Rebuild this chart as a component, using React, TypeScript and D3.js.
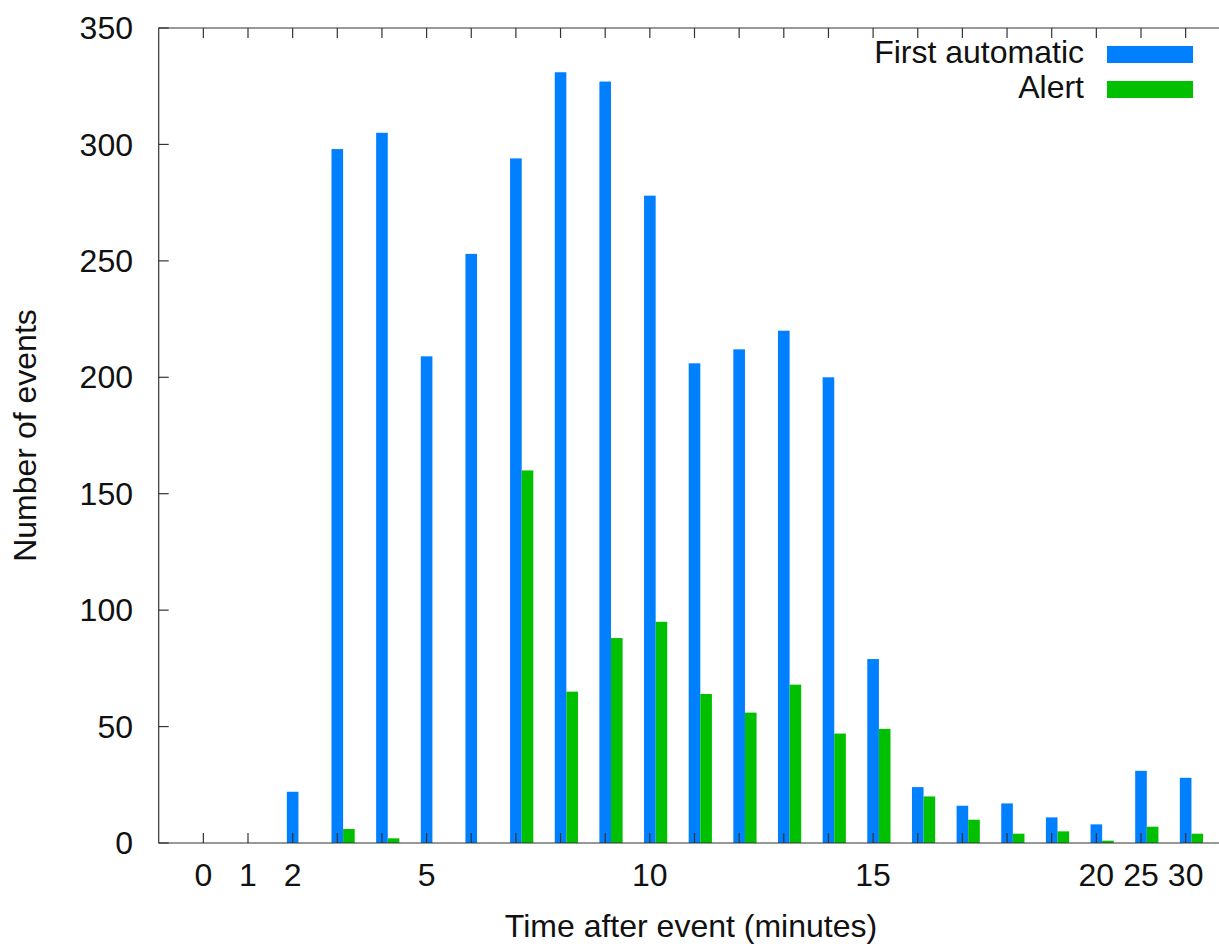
import React from 'react';
import * as d3 from "d3";

// minutes after the event, one cluster per entry
const categories = ["0", "1", "2", "3", "4", "5", "6", "7", "8", "9", "10", "11", "12", "13", "14", "15", "16", "17", "18", "19", "20", "25", "30"];
const shownLabels = ["0", "1", "2", "5", "10", "15", "20", "25", "30"];

const firstAutomatic = [0, 0, 22, 298, 305, 209, 253, 294, 331, 327, 278, 206, 212, 220, 200, 79, 24, 16, 17, 11, 8, 31, 28];
const alert = [0, 0, 0, 6, 2, 0, 0, 160, 65, 88, 95, 64, 56, 68, 47, 49, 20, 10, 4, 5, 1, 7, 4];

const yTicks = [0, 50, 100, 150, 200, 250, 300, 350];

const W = 1219;
const H = 944;
const left = 158.7;
const right = 1230.3;
const top = 28;
const bottom = 843;

const blue = "#0080ff";
const green = "#00c000";
const font = "'Liberation Sans', Arial, sans-serif";
const fs = 32;

export default function App() {
  const x = d3.scaleLinear().domain([-1, 23]).range([left, right]);
  const y = d3.scaleLinear().domain([0, 350]).range([bottom, top]);
  const bw = x(0.26) - x(0);

  return (
    <div style={{ position: "absolute", left: 0, top: 0 }}>
      <svg width={W} height={H} style={{ display: "block", background: "#fff" }}>
        {/* bars */}
        {categories.map((c, i) => (
          <g key={c}>
            {firstAutomatic[i] > 0 && (
              <rect x={x(i) - bw / 2} y={y(firstAutomatic[i])} width={bw}
                height={y(0) - y(firstAutomatic[i])} fill={blue} />
            )}
            {alert[i] > 0 && (
              <rect x={x(i) + bw / 2} y={y(alert[i])} width={bw}
                height={y(0) - y(alert[i])} fill={green} />
            )}
          </g>
        ))}

        {/* border: left, bottom, top */}
        <path d={`M${right},${top}H${left}V${bottom}H${right}`} fill="none" stroke="#333" strokeWidth={1.2} />

        {/* y ticks */}
        {yTicks.map(t => (
          <g key={t}>
            <line x1={left} x2={left + 10} y1={y(t)} y2={y(t)} stroke="#333" strokeWidth={1.2} />
            <text x={133} y={y(t)} dy="0.35em" textAnchor="end" fontFamily={font} fontSize={fs} fill="#111">{t}</text>
          </g>
        ))}

        {/* x ticks, inward on bottom and top */}
        {categories.map((c, i) => (
          <g key={"t" + c}>
            <line x1={x(i)} x2={x(i)} y1={bottom} y2={bottom - 10} stroke="#333" strokeWidth={1.2} />
            <line x1={x(i)} x2={x(i)} y1={top} y2={top + 10} stroke="#333" strokeWidth={1.2} />
            {shownLabels.includes(c) && (
              <text x={x(i)} y={886} textAnchor="middle" fontFamily={font} fontSize={fs} fill="#111">{c}</text>
            )}
          </g>
        ))}

        {/* axis titles */}
        <text x={691} y={937} textAnchor="middle" fontFamily={font} fontSize={fs} fill="#111">
          Time after event (minutes)
        </text>
        <text transform={`translate(36,${(top + bottom) / 2}) rotate(-90)`} textAnchor="middle"
          fontFamily={font} fontSize={fs} fill="#111">
          Number of events
        </text>

        {/* legend */}
        <text x={1084} y={63} textAnchor="end" fontFamily={font} fontSize={fs} fill="#111">First automatic</text>
        <rect x={1107} y={46} width={86} height={17} fill={blue} />
        <text x={1084} y={98} textAnchor="end" fontFamily={font} fontSize={fs} fill="#111">Alert</text>
        <rect x={1107} y={81} width={86} height={17} fill={green} />
      </svg>
    </div>
  );
}
